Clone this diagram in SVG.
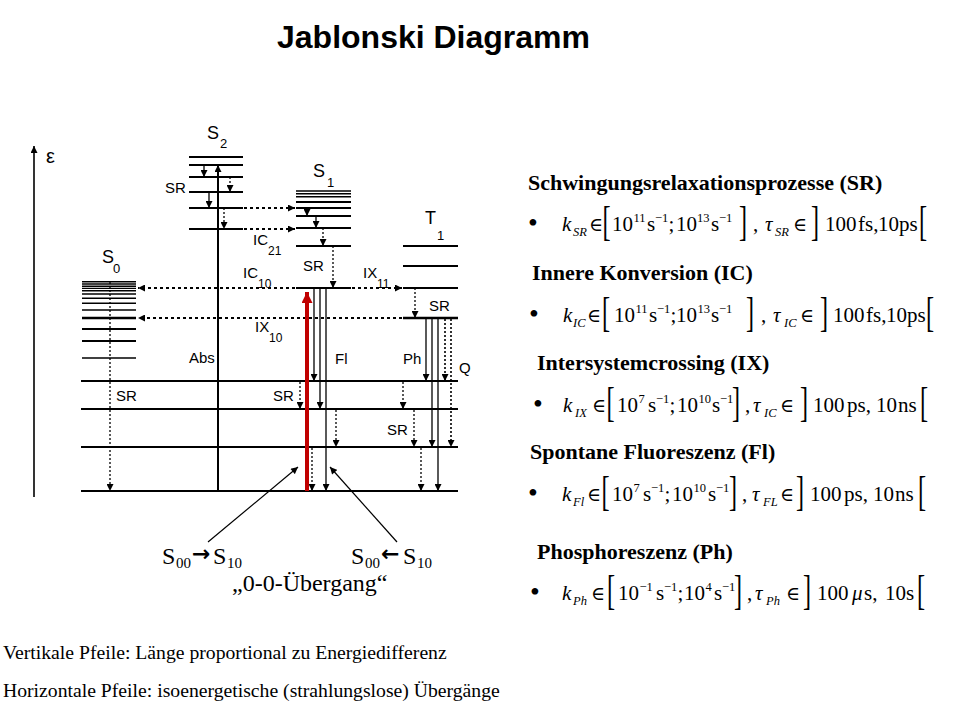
<svg xmlns="http://www.w3.org/2000/svg" width="960" height="720" viewBox="0 0 960 720">
<defs>
<marker id="ah" viewBox="0 0 10 10" refX="10" refY="5" markerUnits="userSpaceOnUse" markerWidth="8" markerHeight="7" orient="auto"><path d="M0,0 L10,5 L0,10 z" fill="#000"/></marker>
<marker id="ahr" viewBox="0 0 10 10" refX="10" refY="5" markerUnits="userSpaceOnUse" markerWidth="13" markerHeight="11" orient="auto"><path d="M0,0 L10,5 L0,10 z" fill="#c00000"/></marker>
</defs>
<style>
.lv{stroke:#000;stroke-width:2}
.lt{stroke:#000;stroke-width:1.4}
.lk{stroke:#000;stroke-width:2.6}
.sol{stroke:#000;stroke-width:1.3;fill:none;marker-end:url(#ah)}
.dot{stroke:#000;stroke-width:1.3;stroke-dasharray:2 2;fill:none;marker-end:url(#ah)}
.qd{stroke:#000;stroke-width:1.6;stroke-dasharray:2 2;fill:none;marker-end:url(#ah)}
.hd{stroke:#000;stroke-width:2;stroke-dasharray:3 3;fill:none;marker-end:url(#ah)}
.thin{stroke:#000;stroke-width:1.2;fill:none;marker-end:url(#ah)}
.red{stroke:#c00000;stroke-width:4;fill:none;marker-end:url(#ahr)}
.lab{font-family:"Liberation Sans",Arial,sans-serif;font-size:15px;fill:#000}
.ls{font-family:"Liberation Sans",Arial,sans-serif;font-size:12px;fill:#000}
.st{font-family:"Liberation Sans",Arial,sans-serif;font-size:18px;fill:#000}
.sts{font-family:"Liberation Sans",Arial,sans-serif;font-size:13px;fill:#000}
.title{font-family:"Liberation Sans",Arial,sans-serif;font-size:32px;font-weight:bold;fill:#000}
.hd1{font-family:"Liberation Serif","Times New Roman",serif;font-size:22px;font-weight:bold;fill:#000}
.f{font-family:"Liberation Serif","DejaVu Serif",serif;font-size:21px;fill:#000}
.el{font-family:"Liberation Serif","DejaVu Serif",serif;font-size:19px;fill:#000}
.fi{font-family:"Liberation Serif","DejaVu Serif",serif;font-size:21px;font-style:italic;fill:#000}
.sb{font-family:"Liberation Serif","DejaVu Serif",serif;font-size:12.5px;font-style:italic;fill:#000}
.sp{font-family:"Liberation Serif","DejaVu Serif",serif;font-size:12.5px;fill:#000}
.bu{font-family:"Liberation Serif","DejaVu Serif",serif;font-size:28px;fill:#000}
.br{font-family:"Liberation Serif","DejaVu Serif",serif;font-size:22px;fill:#000}
.tn{font-family:"Liberation Serif","Times New Roman",serif;font-size:24px;fill:#000}
.tns{font-family:"Liberation Serif","Times New Roman",serif;font-size:15px;fill:#000}
.arr{font-family:"DejaVu Sans",sans-serif;font-size:22px;font-weight:bold;fill:#000}
.note{font-family:"Liberation Serif","Times New Roman",serif;font-size:19.7px;fill:#000}
</style>

<text class="title" x="277" y="48">Jablonski Diagramm</text>

<g id="axis">
<line x1="34" y1="497" x2="34" y2="146" class="sol" style="stroke-width:1.6"/>
<text class="st" x="46" y="163" style="font-size:20px">ε</text>
</g>

<g id="S2">
<line class="lv" x1="189" y1="157" x2="243" y2="157"/>
<line class="lv" x1="189" y1="165" x2="243" y2="165"/>
<line class="lv" x1="189" y1="177" x2="243" y2="177"/>
<line class="lv" x1="189" y1="192" x2="243" y2="192"/>
<line class="lv" x1="189" y1="208" x2="243" y2="208"/>
<line class="lv" x1="189" y1="229" x2="243" y2="229"/>
<text class="st" x="207" y="139">S</text><text class="sts" x="220" y="148">2</text>
</g>

<g id="S1">
<line class="lt" x1="296" y1="191" x2="351" y2="191"/>
<line class="lt" x1="296" y1="193.8" x2="351" y2="193.8"/>
<line class="lt" x1="296" y1="196.8" x2="351" y2="196.8"/>
<line class="lv" x1="296" y1="202" x2="351" y2="202"/>
<line class="lv" x1="296" y1="208" x2="351" y2="208"/>
<line class="lv" x1="296" y1="216" x2="351" y2="216"/>
<line class="lv" x1="296" y1="228" x2="351" y2="228"/>
<line class="lv" x1="296" y1="246" x2="351" y2="246"/>
<line class="lv" x1="296" y1="288" x2="351" y2="288"/>
<text class="st" x="313" y="177">S</text><text class="sts" x="327" y="187">1</text>
</g>

<g id="T1">
<line class="lv" x1="403" y1="246" x2="458" y2="246"/>
<line class="lv" x1="403" y1="266" x2="458" y2="266"/>
<line class="lv" x1="403" y1="288" x2="458" y2="288"/>
<line class="lk" x1="403" y1="318" x2="458" y2="318"/>
<text class="st" x="425" y="224">T</text><text class="sts" x="437" y="240">1</text>
</g>

<g id="S0">
<line class="lt" x1="82" y1="281.7" x2="136" y2="281.7"/>
<line class="lt" x1="82" y1="284" x2="136" y2="284"/>
<line class="lt" x1="82" y1="286.2" x2="136" y2="286.2"/>
<line class="lt" x1="82" y1="288.4" x2="136" y2="288.4"/>
<line class="lt" x1="82" y1="290.8" x2="136" y2="290.8"/>
<line class="lt" x1="82" y1="294" x2="136" y2="294"/>
<line class="lt" x1="82" y1="298.3" x2="136" y2="298.3"/>
<line class="lt" x1="82" y1="303.3" x2="136" y2="303.3"/>
<line class="lt" x1="82" y1="310" x2="136" y2="310"/>
<line class="lk" x1="82" y1="318" x2="136" y2="318"/>
<line class="lv" x1="82" y1="329" x2="136" y2="329"/>
<line class="lv" x1="82" y1="341" x2="136" y2="341"/>
<line class="lt" x1="82" y1="358" x2="136" y2="358"/>
<text class="st" x="102" y="263">S</text><text class="sts" x="113" y="273">0</text>
</g>

<g id="ground">
<line class="lv" x1="81" y1="381" x2="458" y2="381"/>
<line class="lv" x1="81" y1="409" x2="458" y2="409"/>
<line class="lv" x1="81" y1="447" x2="458" y2="447"/>
<line class="lv" x1="81" y1="491" x2="458" y2="491"/>
</g>

<g id="connectors">
<line class="sol" style="stroke-width:2" x1="218" y1="491" x2="218" y2="165"/>
<line class="sol" x1="204" y1="165" x2="204" y2="177"/>
<line class="dot" x1="230" y1="177" x2="230" y2="192"/>
<line class="sol" x1="209" y1="192" x2="209" y2="208"/>
<line class="dot" x1="224" y1="208" x2="224" y2="229"/>
<line class="hd" x1="244" y1="208" x2="295" y2="208"/>
<line class="hd" x1="244" y1="229" x2="295" y2="229"/>
<line class="sol" x1="307" y1="208" x2="307" y2="216"/>
<line class="sol" x1="316" y1="216" x2="316" y2="228"/>
<line class="dot" x1="323" y1="228" x2="323" y2="246"/>
<line class="dot" x1="333" y1="246" x2="333" y2="288"/>
<line class="hd" x1="295" y1="288" x2="138" y2="288"/>
<line class="hd" x1="402" y1="318" x2="138" y2="318"/>
<line class="hd" x1="352" y1="288" x2="402" y2="288"/>
<line class="dot" x1="415" y1="288" x2="415" y2="318"/>
<line class="dot" x1="110" y1="282" x2="110" y2="491"/>
<line class="sol" x1="314" y1="289" x2="314" y2="381"/>
<line class="sol" x1="320" y1="289" x2="320" y2="409"/>
<line class="sol" x1="326" y1="289" x2="326" y2="491"/>
<line class="sol" x1="426" y1="319" x2="426" y2="381"/>
<line class="sol" x1="432" y1="319" x2="432" y2="447"/>
<line class="sol" x1="438" y1="319" x2="438" y2="491"/>
<line class="qd" x1="445" y1="319" x2="445" y2="381"/>
<line class="qd" x1="451" y1="319" x2="451" y2="447"/>
<line class="dot" x1="300" y1="382" x2="300" y2="409"/>
<line class="dot" x1="336" y1="410" x2="336" y2="447"/>
<line class="dot" x1="312" y1="448" x2="312" y2="491"/>
<line class="dot" x1="403" y1="382" x2="403" y2="409"/>
<line class="dot" x1="414" y1="410" x2="414" y2="447"/>
<line class="dot" x1="421" y1="448" x2="421" y2="491"/>
<line class="red" x1="307" y1="491" x2="307" y2="292"/>
<line class="thin" x1="208" y1="542" x2="298" y2="467"/>
<line class="thin" x1="397" y1="542" x2="330" y2="467"/>
</g>

<g id="process-labels">
<text class="lab" x="165" y="193">SR</text>
<text class="lab" x="303" y="271">SR</text>
<text class="lab" x="429" y="311">SR</text>
<text class="lab" x="116" y="401">SR</text>
<text class="lab" x="273" y="401">SR</text>
<text class="lab" x="387" y="435">SR</text>
<text class="lab" x="189" y="363">Abs</text>
<text class="lab" x="335" y="364">Fl</text>
<text class="lab" x="403" y="364">Ph</text>
<text class="lab" x="459" y="373">Q</text>
<text class="lab" x="253" y="245">IC</text><text class="ls" x="268" y="255">21</text>
<text class="lab" x="243" y="278">IC</text><text class="ls" x="258" y="288">10</text>
<text class="lab" x="255" y="332">IX</text><text class="ls" x="269" y="342">10</text>
<text class="lab" x="363" y="278">IX</text><text class="ls" x="377" y="288">11</text>
</g>

<g id="transition-labels">
<text class="tn" x="162" y="564">S</text><text class="tns" x="176" y="568">00</text>
<text class="arr" x="192" y="561">→</text>
<text class="tn" x="213" y="564">S</text><text class="tns" x="227" y="568">10</text>
<text class="tn" x="351" y="564">S</text><text class="tns" x="365" y="568">00</text>
<text class="arr" x="381" y="561">←</text>
<text class="tn" x="403" y="564">S</text><text class="tns" x="417" y="568">10</text>
<text class="tn" x="232" y="591">„0-0-Übergang“</text>
</g>

<g id="rates">
<text class="hd1" x="528" y="190">Schwingungsrelaxationsprozesse (SR)</text>
<text class="bu" x="528" y="232">•</text>
<text class="fi" x="562" y="231">k</text><text class="sb" x="573" y="236">SR</text>
<text class="el" x="589" y="231">∈</text>
<text class="br" transform="translate(602.5,234.5) scale(1.1,1.9)">[</text>
<text class="f" x="612" y="231">10</text><text class="sp" x="633.5" y="222">11</text>
<text class="f" x="647" y="231">s</text><text class="sp" x="655" y="222">−1</text>
<text class="f" x="668.5" y="231">;</text>
<text class="f" x="676" y="231">10</text><text class="sp" x="697" y="222">13</text>
<text class="f" x="711" y="231">s</text><text class="sp" x="719" y="222">−1</text>
<text class="br" transform="translate(739,234.5) scale(1.1,1.9)">]</text>
<text class="f" x="753" y="231">,</text>
<text class="fi" x="765" y="231">τ</text><text class="sb" x="775" y="236">SR</text>
<text class="el" x="793" y="231">∈</text>
<text class="br" transform="translate(811,234.5) scale(1.1,1.9)">]</text>
<text class="f" x="825" y="231">100</text><text class="f" x="858" y="231">fs,</text><text class="f" x="878" y="231">10</text><text class="f" x="899" y="231">ps</text>
<text class="br" transform="translate(919,234.5) scale(1.1,1.9)">[</text>

<text class="hd1" x="532" y="280">Innere Konversion (IC)</text>
<text class="bu" x="529" y="323">•</text>
<text class="fi" x="563" y="322">k</text><text class="sb" x="573" y="327">IC</text>
<text class="el" x="587" y="322">∈</text>
<text class="br" transform="translate(602,325.5) scale(1.1,1.9)">[</text>
<text class="f" x="614" y="322">10</text><text class="sp" x="635.5" y="313">11</text>
<text class="f" x="649" y="322">s</text><text class="sp" x="657" y="313">−1</text>
<text class="f" x="670.5" y="322">;</text>
<text class="f" x="676" y="322">10</text><text class="sp" x="697.5" y="313">13</text>
<text class="f" x="711" y="322">s</text><text class="sp" x="719" y="313">−1</text>
<text class="br" transform="translate(746,325.5) scale(1.1,1.9)">]</text>
<text class="f" x="761" y="322">,</text>
<text class="fi" x="773" y="322">τ</text><text class="sb" x="784" y="327">IC</text>
<text class="el" x="800" y="322">∈</text>
<text class="br" transform="translate(820,325.5) scale(1.1,1.9)">]</text>
<text class="f" x="833" y="322">100</text><text class="f" x="866" y="322">fs,</text><text class="f" x="886" y="322">10</text><text class="f" x="907" y="322">ps</text>
<text class="br" transform="translate(926,325.5) scale(1.1,1.9)">[</text>

<text class="hd1" x="537" y="370">Intersystemcrossing (IX)</text>
<text class="bu" x="533" y="413">•</text>
<text class="fi" x="563" y="412">k</text><text class="sb" x="575" y="417">IX</text>
<text class="el" x="592" y="412">∈</text>
<text class="br" transform="translate(606.5,415.5) scale(1.1,1.9)">[</text>
<text class="f" x="617" y="412">10</text><text class="sp" x="638.5" y="403">7</text>
<text class="f" x="648" y="412">s</text><text class="sp" x="656" y="403">−1</text>
<text class="f" x="669.5" y="412">;</text>
<text class="f" x="677" y="412">10</text><text class="sp" x="698.5" y="403">10</text>
<text class="f" x="712" y="412">s</text><text class="sp" x="720" y="403">−1</text>
<text class="br" transform="translate(732,415.5) scale(1.1,1.9)">]</text>
<text class="f" x="745" y="412">,</text>
<text class="fi" x="753" y="412">τ</text><text class="sb" x="764" y="417">IC</text>
<text class="el" x="780" y="412">∈</text>
<text class="br" transform="translate(800,415.5) scale(1.1,1.9)">]</text>
<text class="f" x="813" y="412">100</text><text class="f" x="847" y="412">ps,</text><text class="f" x="876" y="412">10</text><text class="f" x="898" y="412">ns</text>
<text class="br" transform="translate(920,415.5) scale(1.1,1.9)">[</text>

<text class="hd1" x="530" y="459">Spontane Fluoreszenz (Fl)</text>
<text class="bu" x="528" y="502">•</text>
<text class="fi" x="562" y="501">k</text><text class="sb" x="573" y="506">Fl</text>
<text class="el" x="587" y="501">∈</text>
<text class="br" transform="translate(601.5,504.5) scale(1.1,1.9)">[</text>
<text class="f" x="612" y="501">10</text><text class="sp" x="633.5" y="492">7</text>
<text class="f" x="643" y="501">s</text><text class="sp" x="651" y="492">−1</text>
<text class="f" x="664.5" y="501">;</text>
<text class="f" x="672" y="501">10</text><text class="sp" x="693.5" y="492">10</text>
<text class="f" x="708" y="501">s</text><text class="sp" x="716" y="492">−1</text>
<text class="br" transform="translate(729,504.5) scale(1.1,1.9)">]</text>
<text class="f" x="742" y="501">,</text>
<text class="fi" x="752" y="501">τ</text><text class="sb" x="763" y="506">FL</text>
<text class="el" x="780" y="501">∈</text>
<text class="br" transform="translate(796,504.5) scale(1.1,1.9)">]</text>
<text class="f" x="810" y="501">100</text><text class="f" x="844" y="501">ps,</text><text class="f" x="873" y="501">10</text><text class="f" x="895" y="501">ns</text>
<text class="br" transform="translate(918,504.5) scale(1.1,1.9)">[</text>

<text class="hd1" x="537" y="559">Phosphoreszenz (Ph)</text>
<text class="bu" x="530" y="601">•</text>
<text class="fi" x="562" y="600">k</text><text class="sb" x="573" y="605">Ph</text>
<text class="el" x="591" y="600">∈</text>
<text class="br" transform="translate(607,603.5) scale(1.1,1.9)">[</text>
<text class="f" x="618" y="600">10</text><text class="sp" x="639.5" y="591">−1</text>
<text class="f" x="656" y="600">s</text><text class="sp" x="664" y="591">−1</text>
<text class="f" x="677.5" y="600">;</text>
<text class="f" x="684" y="600">10</text><text class="sp" x="705.5" y="591">4</text>
<text class="f" x="714" y="600">s</text><text class="sp" x="722" y="591">−1</text>
<text class="br" transform="translate(734,603.5) scale(1.1,1.9)">]</text>
<text class="f" x="747" y="600">,</text>
<text class="fi" x="755" y="600">τ</text><text class="sb" x="766" y="605">Ph</text>
<text class="el" x="786" y="600">∈</text>
<text class="br" transform="translate(803,603.5) scale(1.1,1.9)">]</text>
<text class="f" x="817" y="600">100</text><text class="fi" x="852" y="600">μ</text><text class="f" x="864" y="600">s,</text><text class="f" x="885" y="600">10s</text>
<text class="br" transform="translate(917,603.5) scale(1.1,1.9)">[</text>
</g>

<g id="notes">
<text class="note" x="3" y="659">Vertikale Pfeile: Länge proportional zu Energiedifferenz</text>
<text class="note" x="3" y="697">Horizontale Pfeile: isoenergetische (strahlungslose) Übergänge</text>
</g>
</svg>
